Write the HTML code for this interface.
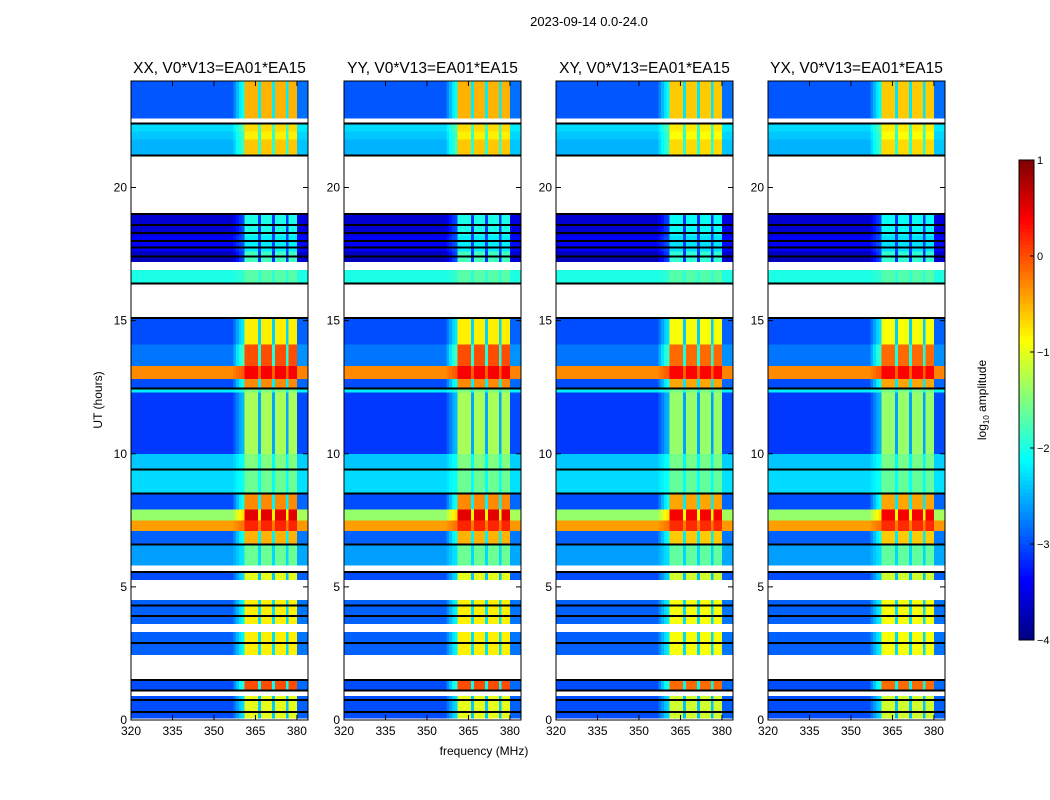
<!DOCTYPE html>
<html><head><meta charset="utf-8">
<style>
body{margin:0;background:#fff;}
svg{display:block;font-family:"Liberation Sans",sans-serif;}
</style></head>
<body>
<svg id="fig" width="1050" height="800" viewBox="0 0 1050 800">
<text x="589" y="26" font-size="13" text-anchor="middle">2023-09-14 0.0-24.0</text>
<text x="484" y="755" font-size="12" text-anchor="middle">frequency (MHz)</text>
<text transform="translate(102,400) rotate(-90)" font-size="12" text-anchor="middle">UT (hours)</text>
<text transform="translate(986,400) rotate(-90)" font-size="12" text-anchor="middle">log<tspan font-size="8" dy="3">10</tspan><tspan dy="-3"> amplitude</tspan></text>
<g id="panels"></g>
<g id="cbar"></g>
</svg>
<script>
// ---- data ----
const panelTitles = ["XX, V0*V13=EA01*EA15","YY, V0*V13=EA01*EA15","XY, V0*V13=EA01*EA15","YX, V0*V13=EA01*EA15"];
const xTicks = [320,335,350,365,380];
const yTicks = [0,5,10,15,20];
const cbarTicks = [1,0,-1,-2,-3,-4];
// time segments: start hour, end hour
const segStart = [22.6,22.4,22.1,21.8,21.2,19.0,18.2,17.6,17.2,16.9,16.4,15.1,14.1,13.3,12.8,12.45,12.3,10.0,9.45,8.5,7.9,7.5,7.1,6.6,5.8,5.55,5.25,4.5,3.6,3.3,2.45,1.5,1.1,0.9,0.05,0.0];
const segEnd   = [24.0,22.6,22.4,22.1,21.8,21.2,19.0,18.2,17.6,17.2,16.9,16.4,15.1,14.1,13.3,12.8,12.45,12.3,10.0,9.45,8.5,7.9,7.5,7.1,6.6,5.8,5.55,5.25,4.5,3.6,3.3,2.45,1.5,1.1,0.9,0.05];
// background log10 amplitude per segment (null = flagged/white)
const segBg    = [-2.95,null,-2.3,-2.4,-2.5,null,-3.6,-3.4,-3.7,null,-2.0,null,-3.0,-2.8,-0.3,-3.0,-2.2,-3.1,-2.4,-2.3,-3.0,-1.4,-0.4,-2.9,-2.6,null,-3.0,null,-2.9,null,-2.9,null,-3.0,null,-3.0,null];
// in-band level per segment
const segBand  = [-0.5,null,-0.7,-0.8,-0.6,null,-2.0,-2.2,-1.8,null,-1.7,null,-0.8,0.0,0.4,-0.3,-1.5,-1.3,-1.5,-1.6,-0.3,0.5,0.2,-0.5,-1.6,null,-1.0,null,-0.8,null,-0.8,null,0.0,null,-1.0,null];
// channel centres (MHz) and band response profile (0=background, 1=in-band)
const channels = [];
for (let f = 320; f < 384; f++) channels.push(f);
const bandProfile = [0,0,0,0,0,0,0,0,0,0, 0,0,0,0,0,0,0,0,0,0, 0,0,0,0,0,0,0,0,0,0, 0,0,0,0,0,0,0,0.1,0.2,0.3,
  0.35,1,1,1,1,1,0.3,1,1,1, 1,0.3,1,1,1,1,0.3,1,1,1, 0.05,0.05,0.05,0.05];
// per-panel band scaling
const panelBandScale = [1.0,1.0,0.95,0.95];
// black separator lines (hours)
const blackLines = [22.4,21.2,19.0,18.6,18.3,18.0,17.75,17.4,16.4,15.1,12.45,9.4,8.5,6.6,5.55,4.3,3.9,2.9,1.5,1.1,0.75,0.3];

// ---- layout ----
const panelX = [131,344,556,768], panelW = 177, axTop = 81, axBot = 720;
const NS = "http://www.w3.org/2000/svg";
function el(tag, attrs, parent){const e=document.createElementNS(NS,tag);for(const k in attrs)e.setAttribute(k,attrs[k]);parent.appendChild(e);return e;}
function jet(v){
  let t=(v+4)/5; t=Math.max(0,Math.min(1,t));
  const c=x=>Math.round(255*Math.max(0,Math.min(1,x)));
  const r=c(1.5-Math.abs(4*t-3)), g=c(1.5-Math.abs(4*t-2)), b=c(1.5-Math.abs(4*t-1));
  return `rgb(${r},${g},${b})`;
}
const yOf = h => axBot - (h/24)*(axBot-axTop);
const xOf = (p,f) => panelX[p] + (f-320)/(384-320)*panelW;

const G = document.getElementById('panels');
for (let p=0;p<4;p++){
  const g = el('g',{},G);
  
  
  const hm = el('g',{'shape-rendering':'crispEdges'},g);
  
  
  for (let s=0;s<segStart.length;s++){
    if (segBg[s]===null) continue;
    const y0=yOf(segEnd[s]), y1=yOf(segStart[s]);
    for (let c=0;c<channels.length;c++){
      const bp = bandProfile[c]*panelBandScale[p];
      const v = segBg[s] + bp*(segBand[s]-segBg[s]);
      const x0=xOf(p,channels[c]), x1=xOf(p,channels[c]+1);
      const r = el('rect',{x:x0.toFixed(2),y:y0.toFixed(2),width:(x1-x0+0.3).toFixed(2),height:(y1-y0).toFixed(2),fill:jet(v)},hm);
      
      
    }
  }
  for (const h of blackLines){
    const l = el('rect',{x:panelX[p],y:(yOf(h)-1).toFixed(2),width:panelW,height:2,fill:'#000'},hm);
    
    
  }
  const fr = el('rect',{x:panelX[p],y:axTop,width:panelW,height:axBot-axTop,fill:'none',stroke:'#000','stroke-width':1},g);
  
  
  const t = el('text',{x:panelX[p]+panelW/2,y:73,'font-size':15.5,'text-anchor':'middle'},g);
  t.textContent = panelTitles[p];
  
  
  for (const f of xTicks){
    const x=xOf(p,f);
    el('line',{x1:x,x2:x,y1:axBot,y2:axBot-5,stroke:'#000'},g);
    el('line',{x1:x,x2:x,y1:axTop,y2:axTop+5,stroke:'#000'},g);
    const tt = el('text',{x:x,y:axBot+15,'font-size':12,'text-anchor':'middle'},g);
    tt.textContent=f;
    
    
  }
  for (const h of yTicks){
    const y=yOf(h);
    el('line',{x1:panelX[p],x2:panelX[p]+5,y1:y,y2:y,stroke:'#000'},g);
    el('line',{x1:panelX[p]+panelW,x2:panelX[p]+panelW-5,y1:y,y2:y,stroke:'#000'},g);
    const tt = el('text',{x:panelX[p]-4,y:y+4,'font-size':12,'text-anchor':'end'},g);
    tt.textContent=h;
    
    
  }
}
// colorbar
const CB = document.getElementById('cbar');


const cbX=1019, cbW=15, cbT=160, cbB=640;
for (let i=0;i<120;i++){
  const v = -4 + 5*(i+0.5)/120;
  const y = cbB - (i+1)*(cbB-cbT)/120;
  el('rect',{x:cbX,y:y.toFixed(2),width:cbW,height:((cbB-cbT)/120+0.5).toFixed(2),fill:jet(v),'shape-rendering':'crispEdges'},CB);
}
el('rect',{x:cbX,y:cbT,width:cbW,height:cbB-cbT,fill:'none',stroke:'#000'},CB);
for (const v of cbarTicks){
  const y = cbB - (v+4)/5*(cbB-cbT);
  el('line',{x1:cbX+cbW,x2:cbX+cbW-4,y1:y,y2:y,stroke:'#000'},CB);
  const tt = el('text',{x:cbX+cbW+3,y:y+4,'font-size':11},CB);
  tt.textContent = v<0 ? '\u2212'+(-v) : v;
  
  
}
</script>
</body></html>
